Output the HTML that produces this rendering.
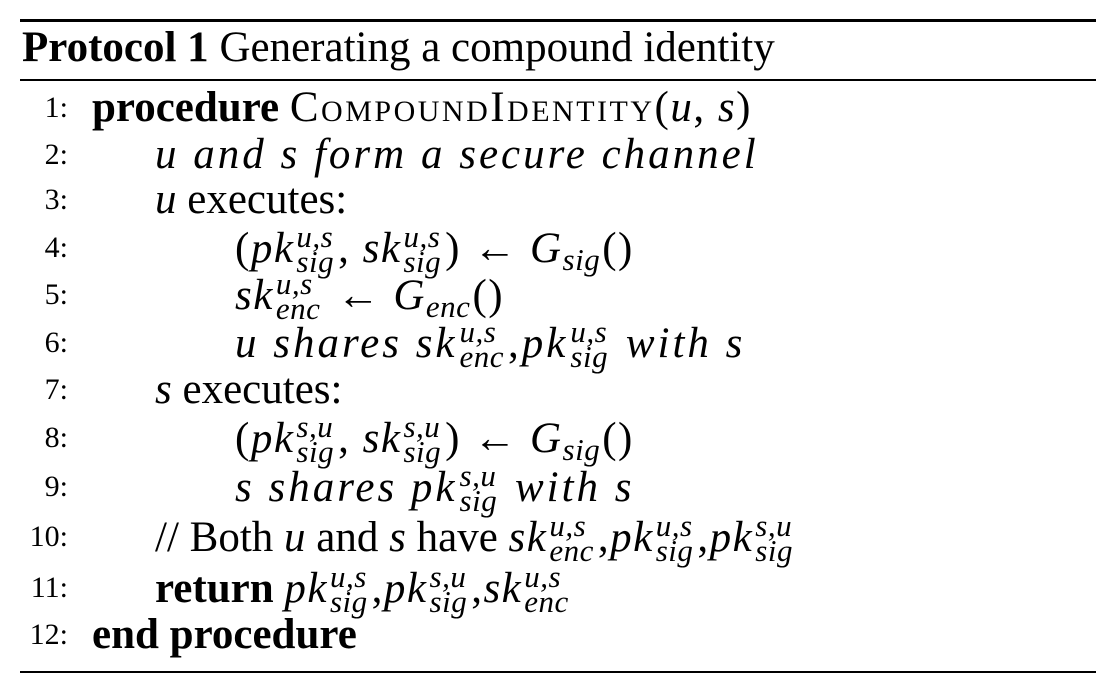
<!DOCTYPE html>
<html><head><meta charset="utf-8"><style>
body{margin:0;background:#fff;width:1118px;height:689px;position:relative;overflow:hidden;font-family:"Liberation Serif","DejaVu Serif",serif;color:#000}
.rule{position:absolute;left:20px;width:1076px;background:#000}
.ln{position:absolute;left:0;height:48px;line-height:48px;font-size:43px;white-space:nowrap}
.num{position:absolute;left:0;width:68px;text-align:right;font-size:30px}
.t{position:absolute}
i{font-style:italic}
.m{letter-spacing:1.5px}
.ss{display:inline-flex;flex-direction:column;font-size:31px;line-height:25px;vertical-align:15px;font-style:italic;margin-left:2px;margin-right:4px;letter-spacing:0.5px}
.sb{font-size:31px;font-style:italic;vertical-align:-8px;letter-spacing:0.5px;margin-right:2px}
.sc{font-variant:small-caps;letter-spacing:2.5px}
.sp{letter-spacing:3px}
</style></head><body>
<div class="rule" style="top:19px;height:3px"></div>
<div class="ln" style="top:24px;left:22px"><b>Protocol 1</b> Generating a compound identity</div>
<div class="rule" style="top:79px;height:2px"></div>

<div class="ln" style="top:84px;width:1118px"><span class="num">1:</span><span class="t" style="left:92px"><b>procedure</b> <span class="sc">CompoundIdentity</span><span class="m">(<i>u</i>, <i>s</i>)</span></span></div>
<div class="ln" style="top:131px;width:1118px"><span class="num">2:</span><span class="t sp" style="left:155px"><i>u and s form a secure channel</i></span></div>
<div class="ln" style="top:176px;width:1118px"><span class="num">3:</span><span class="t" style="left:155px"><i>u</i> executes:</span></div>
<div class="ln" style="top:224px;width:1118px"><span class="num">4:</span><span class="t m" style="left:235px">(<i>pk</i><span class="ss"><span>u,s</span><span>sig</span></span>, <i>sk</i><span class="ss"><span>u,s</span><span>sig</span></span>) ← <i>G</i><span class="sb">sig</span>()</span></div>
<div class="ln" style="top:271px;width:1118px"><span class="num">5:</span><span class="t m" style="left:235px"><i>sk</i><span class="ss"><span>u,s</span><span>enc</span></span> ← <i>G</i><span class="sb">enc</span>()</span></div>
<div class="ln" style="top:319px;width:1118px"><span class="num">6:</span><span class="t sp" style="left:235px"><i>u shares sk</i><span class="ss"><span>u,s</span><span>enc</span></span>,<i>pk</i><span class="ss"><span>u,s</span><span>sig</span></span> <i>with s</i></span></div>
<div class="ln" style="top:366px;width:1118px"><span class="num">7:</span><span class="t" style="left:155px"><i>s</i> executes:</span></div>
<div class="ln" style="top:414px;width:1118px"><span class="num">8:</span><span class="t m" style="left:235px">(<i>pk</i><span class="ss"><span>s,u</span><span>sig</span></span>, <i>sk</i><span class="ss"><span>s,u</span><span>sig</span></span>) ← <i>G</i><span class="sb">sig</span>()</span></div>
<div class="ln" style="top:463px;width:1118px"><span class="num">9:</span><span class="t sp" style="left:235px"><i>s shares pk</i><span class="ss"><span>s,u</span><span>sig</span></span> <i>with s</i></span></div>
<div class="ln" style="top:513px;width:1118px"><span class="num">10:</span><span class="t" style="left:155px">// Both <i>u</i> and <i>s</i> have <span class="m"><i>sk</i><span class="ss"><span>u,s</span><span>enc</span></span>,<i>pk</i><span class="ss"><span>u,s</span><span>sig</span></span>,<i>pk</i><span class="ss"><span>s,u</span><span>sig</span></span></span></span></div>
<div class="ln" style="top:564px;width:1118px"><span class="num">11:</span><span class="t" style="left:155px"><b>return</b> <span class="m"><i>pk</i><span class="ss"><span>u,s</span><span>sig</span></span>,<i>pk</i><span class="ss"><span>s,u</span><span>sig</span></span>,<i>sk</i><span class="ss"><span>u,s</span><span>enc</span></span></span></span></div>
<div class="ln" style="top:611px;width:1118px"><span class="num">12:</span><span class="t" style="left:92px"><b>end procedure</b></span></div>

<div class="rule" style="top:671px;height:2px"></div>
</body></html>
